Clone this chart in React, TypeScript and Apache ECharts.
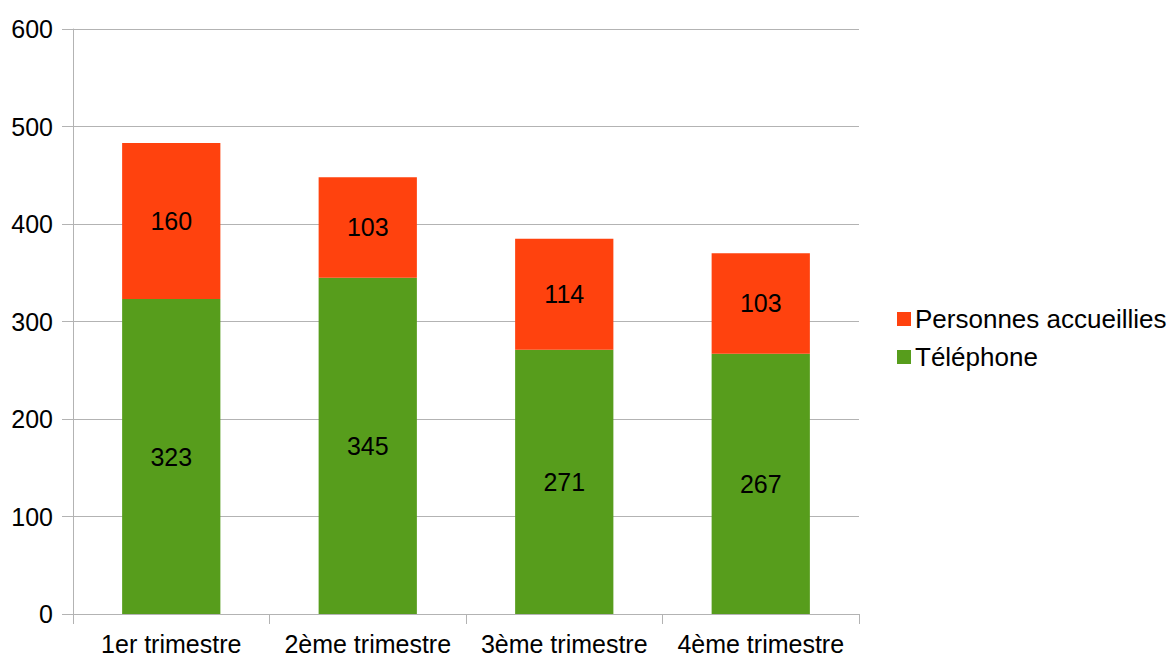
import React, { useEffect, useRef } from "react";
import * as echarts from "echarts";

const categories = ["1er trimestre", "2ème trimestre", "3ème trimestre", "4ème trimestre"];
const telephone = [323, 345, 271, 267];
const personnes = [160, 103, 114, 103];
const seriesNames = ["Téléphone", "Personnes accueillies"];
const legendOrder = ["Personnes accueillies", "Téléphone"];

export default function App() {
  const ref = useRef<HTMLDivElement>(null);
  useEffect(() => {
    document.body.style.margin = "0";
    const chart = echarts.init(ref.current!, null, { renderer: "svg" });
    const font = "'Liberation Sans', Arial, sans-serif";
    const gray = "#b3b3b3";
    const fs = 25;
    chart.setOption({
      animation: false,
      textStyle: { fontFamily: font },
      grid: { left: 73, right: 311, top: 29, bottom: 45, containLabel: false },
      legend: {
        orient: "vertical",
        left: 892,
        top: 301,
        itemWidth: 14,
        itemHeight: 14,
        itemGap: 12,
        icon: "rect",
        data: legendOrder,
        textStyle: { fontSize: 26, color: "#000", fontFamily: font, padding: [0, 0, 0, -1] },
      },
      xAxis: {
        type: "category",
        data: categories,
        axisLine: { lineStyle: { color: gray } },
        axisTick: { show: true, length: 10, lineStyle: { color: gray } },
        axisLabel: { fontSize: 25, lineHeight: 24, color: "#000", margin: 18, fontFamily: font, interval: 0 },
      },
      yAxis: {
        type: "value",
        min: 0,
        max: 600,
        interval: 100,
        axisLine: { show: true, lineStyle: { color: gray } },
        axisTick: { show: true, length: 11, lineStyle: { color: gray } },
        splitLine: { lineStyle: { color: gray } },
        axisLabel: { fontSize: fs, color: "#000", margin: 20, fontFamily: font },
      },
      series: [
        {
          name: seriesNames[0],
          type: "bar",
          stack: "total",
          barWidth: "50%",
          data: telephone,
          itemStyle: { color: "#579d1c" },
          label: { show: true, position: "inside", fontSize: fs, color: "#000", fontFamily: font },
        },
        {
          name: seriesNames[1],
          type: "bar",
          stack: "total",
          barWidth: "50%",
          data: personnes,
          itemStyle: { color: "#ff420e" },
          label: { show: true, position: "inside", fontSize: fs, color: "#000", fontFamily: font },
        },
      ],
    });
    return () => chart.dispose();
  }, []);
  return <div ref={ref} style={{ width: 1170, height: 659 }} />;
}
